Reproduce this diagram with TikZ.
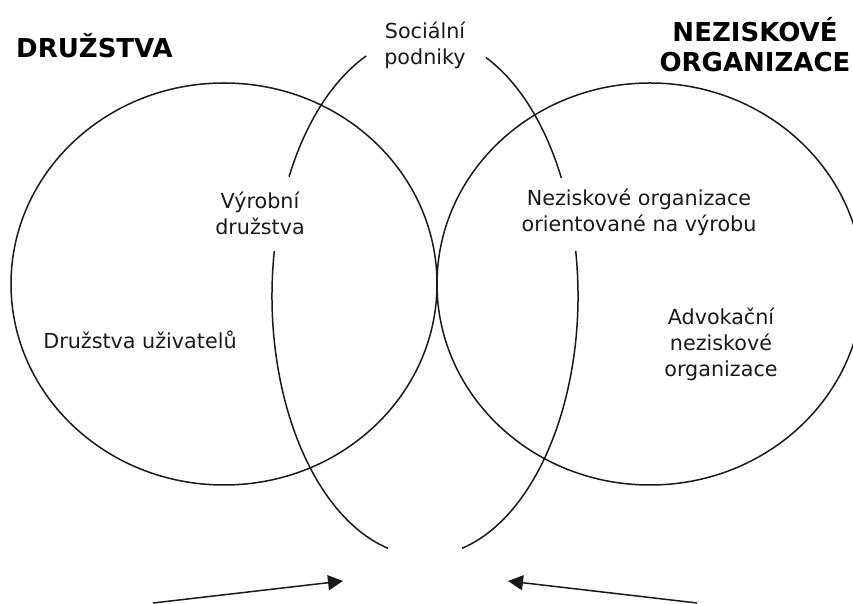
\documentclass[tikz,border=0pt]{standalone}
\usepackage{fontspec}
\setmainfont{DejaVu Sans}
\usetikzlibrary{arrows.meta}
\begin{document}
\begin{tikzpicture}[x=1pt,y=1pt,
  curve/.style={line width=1.5pt, draw=black!90},
  body/.style={align=center, inner sep=0pt, font=\fontsize{20.7}{26}\selectfont, text=black!90},
  title/.style={align=center, inner sep=0pt, font=\fontsize{26}{30}\selectfont\bfseries, text=black},
  arr/.style={line width=1.5pt, draw=black!90, -{Triangle[length=15pt,width=15pt]}}]
\useasboundingbox (0,0) rectangle (853,604);
\clip (0,0) rectangle (853,604);
% circles
\coordinate (L) at (224,320);
\coordinate (R) at (650,320);
\coordinate (E) at (425,308);
\draw[curve] (L) ellipse [x radius=213pt, y radius=201pt];
\draw[curve] (R) ellipse [x radius=213pt, y radius=201pt];
% social enterprise ellipse (broken at labels)
\draw[curve] (E) ++(112.6:153pt and 260pt) arc[start angle=112.6, end angle=152.7, x radius=153pt, y radius=260pt];
\draw[curve] (E) ++(170:153pt and 260pt) arc[start angle=170, end angle=256, x radius=153pt, y radius=260pt];
\draw[curve] (E) ++(66.5:153pt and 260pt) arc[start angle=66.5, end angle=27, x radius=153pt, y radius=260pt];
\draw[curve] (E) ++(10:153pt and 260pt) arc[start angle=10, end angle=-76, x radius=153pt, y radius=260pt];
% titles
\node[title, anchor=west] (druz) at (16,558) {DRUŽSTVA};
\node[title] (nezorg) at (755,559) {NEZISKOVÉ\\ORGANIZACE};
% labels
\node[body] (soc) at (425,559) {Sociální\\podniky};
\node[body] (vyr) at (260,391) {Výrobní\\družstva};
\node[body] (nov) at (639,392) {Neziskové organizace\\orientované na výrobu};
\node[body] (uziv) at (140,264) {Družstva uživatelů};
\node[body] (adv) at (721,260) {Advokační\\neziskové\\organizace};
% arrows
\coordinate (a1s) at (153,1);
\coordinate (a1e) at (343,23);
\coordinate (a2s) at (697,1);
\coordinate (a2e) at (508,23);
\draw[arr] (a1s) -- (a1e);
\draw[arr] (a2s) -- (a2e);
\end{tikzpicture}
\end{document}
